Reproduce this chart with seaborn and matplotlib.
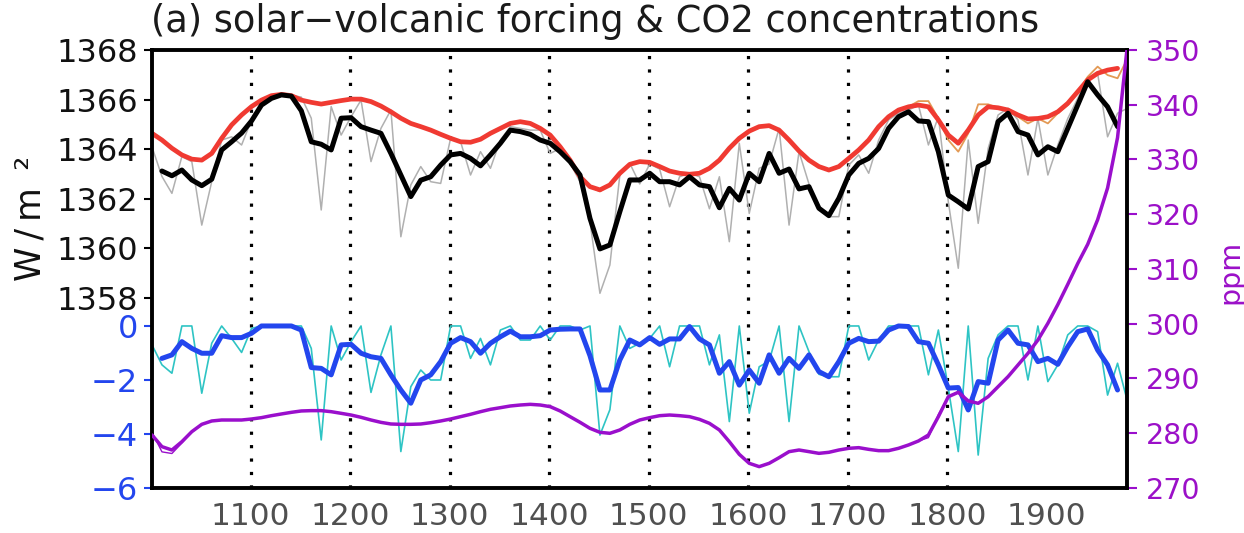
import numpy as np
import pandas as pd
import matplotlib
matplotlib.use("Agg")
import matplotlib.pyplot as plt
import seaborn as sns

# ---------------------------------------------------------------- data
# decadal time axis (years)
years = np.arange(1001, 1982, 10)          # 1001 ... 1981
years_smooth = np.arange(1011, 1972, 10)   # running-mean series 1011 ... 1971
years_solar = np.arange(1001, 1972, 10)    # smoothed solar 1001 ... 1971

# solar + volcanic TSI, decadal (W/m^2)
tsi_total = [
    1364.09, 1362.90, 1362.22, 1363.70, 1363.50, 1360.94, 1362.69, 1364.37, 1364.50, 1364.17,
    1365.18, 1365.90, 1366.10, 1366.18, 1366.18, 1366.10, 1365.25, 1361.55, 1365.72, 1364.57,
    1365.31, 1365.98, 1363.50, 1364.84, 1365.58, 1360.47, 1362.56, 1363.30, 1362.69, 1362.62,
    1364.44, 1364.30, 1362.96, 1363.90, 1363.23, 1364.37, 1364.91, 1364.84, 1364.77, 1364.77,
    1363.83, 1364.03, 1363.43, 1362.69, 1361.08, 1358.19, 1359.33, 1362.96, 1363.43, 1362.60,
    1363.40, 1363.20, 1361.68, 1362.89, 1363.03, 1362.89, 1361.60, 1362.89, 1360.27, 1364.24,
    1361.41, 1363.23, 1363.40, 1364.84, 1360.94, 1363.90, 1362.60, 1361.60, 1361.28, 1361.28,
    1363.36, 1363.77, 1363.03, 1364.37, 1365.18, 1365.45, 1365.58, 1365.78, 1364.17, 1365.31,
    1361.88, 1359.20, 1364.37, 1361.01, 1364.03, 1365.38, 1365.65, 1365.18, 1362.96, 1365.24,
    1362.96, 1364.17, 1365.24, 1366.05, 1366.86, 1367.06, 1364.50, 1365.45, 1365.65,
]

# smoothed solar + volcanic TSI (W/m^2)
tsi_total_smooth = [
    1363.12, 1362.93, 1363.16, 1362.76, 1362.53, 1362.79, 1363.97, 1364.30, 1364.65,
    1365.14, 1365.78, 1366.05, 1366.19, 1366.14, 1365.55, 1364.30, 1364.20, 1363.97, 1365.25,
    1365.27, 1364.91, 1364.77, 1364.64, 1363.83, 1362.96, 1362.09, 1362.75, 1362.89, 1363.36,
    1363.77, 1363.83, 1363.63, 1363.33, 1363.77, 1364.24, 1364.77, 1364.71, 1364.60, 1364.37,
    1364.24, 1363.90, 1363.50, 1362.96, 1361.21, 1359.98, 1360.14, 1361.48, 1362.76, 1362.76,
    1363.03, 1362.69, 1362.69, 1362.56, 1362.89, 1362.56, 1362.49, 1361.64, 1362.42, 1361.95,
    1363.03, 1362.69, 1363.83, 1363.03, 1363.20, 1362.40, 1362.49, 1361.62, 1361.32, 1362.02,
    1362.96, 1363.43, 1363.63, 1364.03, 1364.84, 1365.31, 1365.51, 1365.14, 1365.11, 1363.90,
    1362.15, 1361.88, 1361.59, 1363.30, 1363.50, 1365.11, 1365.45, 1364.71, 1364.57, 1363.77,
    1364.10, 1363.90, 1364.84, 1365.78, 1366.72, 1366.19, 1365.71, 1364.91,
]

# solar-only TSI, decadal (W/m^2)
tsi_solar = [
    1364.70, 1364.37, 1364.04, 1363.77, 1363.60, 1363.52, 1363.83, 1364.44, 1364.98, 1365.38,
    1365.72, 1365.98, 1366.16, 1366.21, 1366.16, 1365.98, 1365.89, 1365.82, 1365.89, 1365.96,
    1366.02, 1366.02, 1365.92, 1365.74, 1365.51, 1365.25, 1365.04, 1364.91, 1364.77, 1364.60,
    1364.44, 1364.30, 1364.28, 1364.40, 1364.64, 1364.84, 1365.04, 1365.11, 1365.04, 1364.84,
    1364.57, 1364.10, 1363.56, 1362.89, 1362.49, 1362.30, 1362.56, 1363.03, 1363.39, 1363.50,
    1363.47, 1363.30, 1363.12, 1363.03, 1362.99, 1363.03, 1363.23, 1363.56, 1364.04, 1364.44,
    1364.73, 1364.91, 1364.95, 1364.77, 1364.37, 1363.93, 1363.56, 1363.30, 1363.16, 1363.30,
    1363.63, 1363.97, 1364.37, 1364.91, 1365.31, 1365.58, 1365.71, 1365.94, 1365.94, 1365.24,
    1364.37, 1363.90, 1364.64, 1365.81, 1365.81, 1365.67, 1365.58, 1365.31, 1365.04, 1365.24,
    1365.04, 1365.45, 1365.78, 1366.32, 1366.92, 1367.33, 1366.99, 1366.86, 1367.66,
]

# smoothed solar-only TSI (W/m^2)
tsi_solar_smooth = [
    1364.64, 1364.37, 1364.04, 1363.77, 1363.60, 1363.56, 1363.83, 1364.44, 1364.98, 1365.38,
    1365.72, 1365.98, 1366.16, 1366.21, 1366.16, 1365.98, 1365.89, 1365.82, 1365.89, 1365.96,
    1366.02, 1366.02, 1365.92, 1365.74, 1365.51, 1365.25, 1365.04, 1364.91, 1364.77, 1364.60,
    1364.44, 1364.30, 1364.28, 1364.40, 1364.64, 1364.84, 1365.04, 1365.11, 1365.04, 1364.84,
    1364.57, 1364.10, 1363.56, 1362.89, 1362.49, 1362.36, 1362.56, 1363.03, 1363.39, 1363.50,
    1363.47, 1363.30, 1363.12, 1363.03, 1362.99, 1363.03, 1363.23, 1363.56, 1364.04, 1364.44,
    1364.73, 1364.91, 1364.95, 1364.77, 1364.37, 1363.93, 1363.56, 1363.30, 1363.16, 1363.30,
    1363.63, 1363.97, 1364.37, 1364.91, 1365.31, 1365.58, 1365.71, 1365.78, 1365.71, 1365.18,
    1364.57, 1364.24, 1364.77, 1365.38, 1365.71, 1365.67, 1365.58, 1365.38, 1365.22, 1365.24,
    1365.31, 1365.51, 1365.85, 1366.32, 1366.79, 1367.06, 1367.19, 1367.26,
]

# volcanic forcing, decadal (W/m^2)
volc = [
    -0.70, -1.44, -1.75, 0.00, 0.00, -2.49, -0.64, 0.00, -0.46, -0.98,
    -0.09, 0.00, 0.00, 0.00, 0.00, 0.00, -0.83, -4.22, 0.00, -1.26,
    -0.58, 0.00, -2.46, -1.07, 0.00, -4.65, -2.25, -1.63, -2.00, -2.00,
    0.00, 0.00, -1.20, -0.46, -1.44, -0.15, 0.00, -0.52, -0.52, 0.00,
    -0.52, 0.00, 0.00, -0.15, 0.00, -4.04, -3.10, 0.00, -0.83, -0.64,
    -0.46, 0.00, -1.51, 0.00, 0.00, 0.00, -1.44, -0.33, -3.54, 0.00,
    -3.23, -1.51, -1.30, 0.00, -3.54, 0.00, -0.95, -1.79, -1.88, -1.88,
    0.00, 0.00, -1.26, -0.52, 0.00, 0.00, 0.00, 0.00, -1.81, -0.15,
    -2.30, -4.65, 0.00, -4.78, -1.20, -0.33, 0.00, 0.00, -2.00, 0.00,
    -2.06, -1.44, -0.33, 0.00, 0.00, -0.21, -2.56, -1.38, -2.80,
]

# smoothed volcanic forcing (W/m^2)
volc_smooth = [
    -1.20, -1.07, -0.58, -0.83, -1.01, -1.01, -0.36, -0.43, -0.43,
    -0.27, 0.00, 0.00, 0.00, 0.00, -0.15, -1.54, -1.57, -1.81, -0.70,
    -0.68, -1.01, -1.14, -1.20, -1.81, -2.37, -2.86, -2.00, -1.81, -1.32,
    -0.64, -0.43, -0.58, -1.01, -0.64, -0.40, -0.19, -0.40, -0.40, -0.36,
    -0.15, -0.12, -0.11, -0.11, -1.10, -2.37, -2.37, -1.26, -0.52, -0.70,
    -0.43, -0.68, -0.48, -0.48, -0.02, -0.48, -0.70, -1.75, -1.32, -2.19,
    -1.63, -2.12, -1.07, -1.75, -1.20, -1.57, -1.07, -1.69, -1.88, -1.32,
    -0.64, -0.46, -0.58, -0.56, -0.15, 0.00, -0.02, -0.58, -0.64, -1.44,
    -2.30, -2.28, -3.11, -2.06, -2.12, -0.52, -0.15, -0.64, -0.70, -1.32,
    -1.20, -1.42, -0.77, -0.21, -0.11, -0.89, -1.44, -2.37,
]

# CO2 concentration, decadal (ppm)
co2 = [
    280.20, 276.60, 276.30, 278.20, 280.20, 281.60, 282.24, 282.42, 282.42, 282.42,
    282.60, 282.85, 283.21, 283.52, 283.82, 284.07, 284.13, 284.13, 283.94, 283.64,
    283.33, 282.91, 282.42, 281.99, 281.69, 281.63, 281.63, 281.69, 281.93, 282.24,
    282.60, 283.03, 283.46, 283.94, 284.37, 284.67, 284.98, 285.16, 285.28, 285.16,
    284.86, 284.07, 283.03, 282.00, 280.90, 280.17, 279.99, 280.60, 281.63, 282.42,
    282.85, 283.21, 283.33, 283.21, 283.03, 282.54, 281.81, 280.60, 278.46, 276.15,
    274.51, 273.90, 274.51, 275.54, 276.64, 276.94, 276.64, 276.33, 276.52, 276.94,
    277.25, 277.37, 277.06, 276.82, 276.82, 277.25, 277.86, 278.59, 279.20, 283.40,
    286.68, 287.60, 285.80, 285.47, 286.68, 288.51, 290.34, 292.47, 294.60, 297.03,
    300.08, 303.50, 307.20, 311.00, 314.50, 319.00, 324.80, 334.00, 351.00,
]

# smoothed CO2 concentration (ppm)
co2_smooth = [
    279.68, 277.55, 276.94, 278.46, 280.29, 281.63, 282.24, 282.42, 282.42, 282.42,
    282.60, 282.85, 283.21, 283.52, 283.82, 284.07, 284.13, 284.13, 283.94, 283.64,
    283.33, 282.91, 282.42, 281.99, 281.69, 281.63, 281.63, 281.69, 281.93, 282.24,
    282.60, 283.03, 283.46, 283.94, 284.37, 284.67, 284.98, 285.16, 285.28, 285.16,
    284.86, 284.07, 283.03, 282.00, 280.90, 280.17, 279.99, 280.60, 281.63, 282.42,
    282.85, 283.21, 283.33, 283.21, 283.03, 282.54, 281.81, 280.60, 278.46, 276.15,
    274.51, 273.90, 274.51, 275.54, 276.64, 276.94, 276.64, 276.33, 276.52, 276.94,
    277.25, 277.37, 277.06, 276.82, 276.82, 277.25, 277.86, 278.59, 279.68, 283.03,
    286.68, 287.48, 285.90, 285.47, 286.68, 288.51, 290.34, 292.47, 294.60, 297.03,
    300.08, 303.50, 307.20, 311.00, 314.50, 319.00, 324.80, 334.00, 351.00,
]

tsi_ticks = [1358, 1360, 1362, 1364, 1366, 1368]
volc_ticks = [0, -2, -4, -6]
volc_labels = ["0", "\u22122", "\u22124", "\u22126"]
co2_ticks = [270, 280, 290, 300, 310, 320, 330, 340, 350]
year_ticks = [1100, 1200, 1300, 1400, 1500, 1600, 1700, 1800, 1900]
century_lines = [1100, 1200, 1300, 1400, 1500, 1600, 1700, 1800]

# ---------------------------------------------------------------- style
sns.set_style("white")
plt.rcParams["font.family"] = ["DejaVu Sans"]

C_GRAY = "#b0b0b0"
C_BLACK = "#000000"
C_ORANGE = "#e39a55"
C_RED = "#f03a32"
C_CYAN = "#2ec4c4"
C_BLUE = "#2346ee"
C_PURPLE = "#9a0fcc"
C_PURPLE_TXT = "#9b10c8"
C_XLAB = "#505050"
FS_LEFT = 23
FS_X = 22.5
FS_RIGHT = 20.5

fig = plt.figure(figsize=(12.44, 5.33), dpi=100)
rect = [152 / 1244, 45 / 533, 974.5 / 1244, 438 / 533]
ax = fig.add_axes(rect)
ax_v = ax.twinx()
ax_c = ax.twinx()

df_tot = pd.DataFrame({"year": years, "tsi": tsi_total})
df_tot_s = pd.DataFrame({"year": years_smooth, "tsi": tsi_total_smooth})
df_sol = pd.DataFrame({"year": years, "tsi": tsi_solar})
df_sol_s = pd.DataFrame({"year": years_solar, "tsi": tsi_solar_smooth})
df_v = pd.DataFrame({"year": years, "f": volc})
df_v_s = pd.DataFrame({"year": years_smooth, "f": volc_smooth})
df_c = pd.DataFrame({"year": years, "ppm": co2})
df_c_s = pd.DataFrame({"year": years, "ppm": co2_smooth})

# century guide lines
for yr in century_lines:
    ax.axvline(yr, color="black", lw=2.3, ls=(0, (1, 3.2)), zorder=0.5)

# TSI panel
sns.lineplot(data=df_tot, x="year", y="tsi", ax=ax, color=C_GRAY, lw=1.1, zorder=2)
sns.lineplot(data=df_sol, x="year", y="tsi", ax=ax, color=C_ORANGE, lw=1.3, zorder=2.5)
sns.lineplot(data=df_sol_s, x="year", y="tsi", ax=ax, color=C_RED, lw=3.4, zorder=3)
sns.lineplot(data=df_tot_s, x="year", y="tsi", ax=ax, color=C_BLACK, lw=3.6, zorder=4)

# volcanic panel
sns.lineplot(data=df_v, x="year", y="f", ax=ax_v, color=C_CYAN, lw=1.2, zorder=2)
sns.lineplot(data=df_v_s, x="year", y="f", ax=ax_v, color=C_BLUE, lw=3.6, zorder=3)

# CO2
sns.lineplot(data=df_c, x="year", y="ppm", ax=ax_c, color=C_PURPLE, lw=1.0, zorder=2)
sns.lineplot(data=df_c_s, x="year", y="ppm", ax=ax_c, color=C_PURPLE, lw=2.5, zorder=3)

# ---------------------------------------------------------------- axes
for a in (ax, ax_v, ax_c):
    a.set_xlim(1001, 1980)
    a.set_xlabel("")
    a.set_ylabel("")
    a.patch.set_visible(False)

ax.set_ylim(1350.34, 1368)
ax_v.set_ylim(-6, 10.22)
ax_c.set_ylim(270, 350)

# x axis
ax.set_xticks(year_ticks)
ax.set_xticklabels([str(t) for t in year_ticks])
ax.tick_params(axis="x", direction="out", length=5, width=2, color="black",
               labelsize=FS_X, labelcolor=C_XLAB, pad=5)

# left: TSI scale
ax.yaxis.tick_left()
ax.set_yticks(tsi_ticks)
ax.set_yticklabels([str(t) for t in tsi_ticks])
ax.tick_params(axis="y", direction="out", length=6, width=1.5, color="black",
               labelsize=FS_LEFT, labelcolor="#111111", pad=4)

# left: volcanic scale
ax_v.yaxis.tick_left()
ax_v.set_yticks(volc_ticks)
ax_v.set_yticklabels(volc_labels)
ax_v.tick_params(axis="y", direction="out", length=6, width=1.5, color=C_BLUE,
                 labelsize=FS_LEFT, labelcolor=C_BLUE, pad=4)

# right: CO2 scale
ax_c.yaxis.tick_right()
ax_c.set_yticks(co2_ticks)
ax_c.set_yticklabels([str(t) for t in co2_ticks])
ax_c.tick_params(axis="y", direction="out", length=7, width=1.5, color=C_PURPLE,
                 labelsize=FS_RIGHT, labelcolor=C_PURPLE_TXT, pad=7)

for a in (ax, ax_v):
    for s in a.spines.values():
        s.set_visible(False)
for s in ax_c.spines.values():
    s.set_visible(True)
    s.set_linewidth(2.8)
    s.set_color("black")

# labels and title
fig.text(31 / 1244, 1 - 218 / 533, "W\u2009/\u2009m\u2002\u00b2", rotation=90,
         ha="center", va="center", fontsize=25, color="#111111")
fig.text(1230 / 1244, 1 - 272 / 533, "ppm", rotation=90, ha="center", va="center",
         fontsize=20.5, color=C_PURPLE_TXT)
fig.text(151 / 1244, 1 - 3 / 533, "(a) solar\u2212volcanic forcing & CO2 concentrations",
         ha="left", va="top", fontsize=26.5, color="#1a1a1a")

fig.savefig("out.png", dpi=100, facecolor="white")
